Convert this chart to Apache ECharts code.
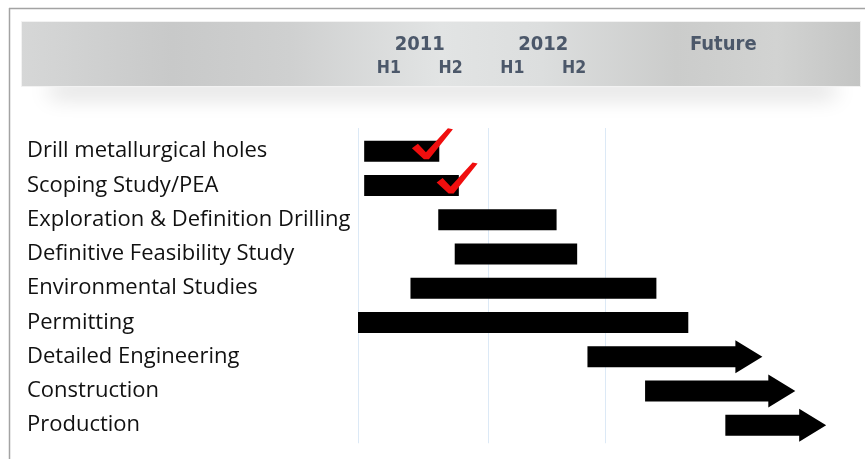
<!DOCTYPE html>
<html>
<head>
<meta charset="utf-8">
<style>
  html, body { margin: 0; padding: 0; background: #fff; }
  #chart { width: 865px; height: 459px; }
</style>
<script src="https://cdn.jsdelivr.net/npm/echarts@6/dist/echarts.min.js"></script>
</head>
<body>
<div id="chart"></div>
<script>
// Timeline in months counted from January 2011.
const tasks = [
  "Drill metallurgical holes",
  "Scoping Study/PEA",
  "Exploration & Definition Drilling",
  "Definitive Feasibility Study",
  "Environmental Studies",
  "Permitting",
  "Detailed Engineering",
  "Construction",
  "Production"
]
const taskStart = [0.6, 0.6, 7.8, 9.4, 5.1, 0.0, 22.3, 27.9, 35.7]
const taskEnd = [7.9, 9.8, 19.3, 21.3, 29.0, 32.1, 39.3, 42.5, 45.5]
const taskOngoing = [0, 0, 0, 0, 0, 0, 1, 1, 1]

// red check marks on the finished tasks: [month, task index]
const doneMarks = [[6.6, 0], [9.0, 1]]

// header ticks
const yearTicks = [6, 18, 35.5]
const yearLabels = ["2011", "2012", "Future"]
const halfTicks = [3, 9, 15, 21]
const halfLabels = ["H1", "H2", "H1", "H2"]

// vertical guide lines
const guideLines = [0, 12.6, 24]

const chart = echarts.init(document.getElementById("chart"), null, { renderer: "canvas" })

const barData = tasks.map((t, i) => [taskStart[i], taskEnd[i], i, taskOngoing[i]])

const headFont = "'Liberation Sans Narrow', 'DejaVu Sans Condensed', sans-serif"

function headerAxis(ticks, labels, offset, size) {
  return {
    type: "value",
    position: "top",
    min: 0,
    max: 48,
    offset: offset,
    z: 10,
    axisLine: { show: false },
    axisTick: { show: false },
    splitLine: { show: false },
    axisLabel: {
      customValues: ticks,
      showMinLabel: true,
      showMaxLabel: true,
      hideOverlap: false,
      margin: 0,
      verticalAlign: "middle",
      fontFamily: headFont,
      fontWeight: "bold",
      fontSize: size,
      color: "#4c586a",
      formatter: (v) => {
        const i = ticks.findIndex((t) => Math.abs(t - v) < 1e-6)
        return i < 0 ? "" : labels[i]
      }
    }
  }
}

const option = {
  animation: false,
  backgroundColor: "#fff",
  graphic: [
    // outer frame
    { type: "line", z: -10, shape: { x1: 9, y1: 8.5, x2: 865, y2: 8.5 }, style: { stroke: "#a3a3a3", lineWidth: 1.5 } },
    { type: "line", z: -10, shape: { x1: 9.5, y1: 8, x2: 9.5, y2: 459 }, style: { stroke: "#a3a3a3", lineWidth: 1.5 } },
    // soft shadow under header
    {
      type: "rect", z: -10, shape: { x: 50, y: 74, width: 785, height: 12 },
      style: { fill: "#d6d6d6", shadowBlur: 22, shadowColor: "rgba(0,0,0,0.18)", shadowOffsetY: 10 }
    },
    // header band
    {
      type: "rect", z: -10, shape: { x: 21.5, y: 21.5, width: 839, height: 65 },
      style: {
        stroke: "#f2f2f2", lineWidth: 1,
        fill: new echarts.graphic.LinearGradient(0, 0, 1, 0, [
          { offset: 0, color: "#d6d7d7" },
          { offset: 0.18, color: "#c8c9c9" },
          { offset: 0.32, color: "#cfd0d0" },
          { offset: 0.5, color: "#e2e4e4" },
          { offset: 0.62, color: "#dcdede" },
          { offset: 0.78, color: "#cbcccb" },
          { offset: 0.9, color: "#d2d3d2" },
          { offset: 1, color: "#c3c4c3" }
        ])
      }
    }
  ],
  grid: { left: 358, top: 134, width: 493.9, height: 308.25, containLabel: false },
  xAxis: [
    {
      type: "value",
      min: 0,
      max: 48,
      show: false
    },
    headerAxis(yearTicks, yearLabels, 89, 20),
    headerAxis(halfTicks, halfLabels, 65.5, 17.5)
  ],
  yAxis: {
    type: "category",
    inverse: true,
    data: tasks,
    axisLine: { show: false },
    axisTick: { show: false },
    splitLine: { show: false },
    axisLabel: {
      interval: 0,
      align: "left",
      margin: 331,
      fontFamily: "'Open Sans', 'Noto Sans', sans-serif",
      fontSize: 22,
      color: "#111"
    }
  },
  series: [
    {
      type: "custom",
      name: "guides",
      data: guideLines.map((v) => [v, 0]),
      encode: { x: 0, y: 1 },
      silent: true,
      z: 1,
      renderItem: (params, api) => {
        const x = Math.round(api.coord([api.value(0), 0])[0]) + 0.5
        const cs = params.coordSys
        return {
          type: "line",
          shape: { x1: x, y1: cs.y - 6, x2: x, y2: cs.y + cs.height + 1 },
          style: { stroke: "#dce9f6", lineWidth: 1 }
        }
      }
    },
    {
      type: "custom",
      name: "tasks",
      data: barData,
      encode: { x: [0, 1], y: 2 },
      z: 2,
      renderItem: (params, api) => {
        const s = api.coord([api.value(0), api.value(2)])
        const e = api.coord([api.value(1), api.value(2)])
        const y = s[1]
        const h = 21
        if (api.value(3)) {
          const head = 27
          const hw = 16.5
          const neck = e[0] - head
          return {
            type: "polygon",
            shape: {
              points: [
                [s[0], y - h / 2], [neck, y - h / 2], [neck, y - hw], [e[0], y],
                [neck, y + hw], [neck, y + h / 2], [s[0], y + h / 2]
              ]
            },
            style: { fill: "#000" }
          }
        }
        return {
          type: "rect",
          shape: { x: s[0], y: y - h / 2, width: e[0] - s[0], height: h },
          style: { fill: "#000" }
        }
      }
    },
    {
      type: "custom",
      name: "done",
      data: doneMarks,
      encode: { x: 0, y: 1 },
      z: 3,
      renderItem: (params, api) => {
        const p = api.coord([api.value(0), api.value(1)])
        const bx = p[0]
        const by = p[1] + 8
        const pts = [[-14, -11], [-8, -15.5], [0, -7], [22, -31], [27, -30], [3, 0], [-2, 0]]
        return {
          type: "polygon",
          shape: { points: pts.map((q) => [bx + q[0], by + q[1]]) },
          style: { fill: "#f00e0e" }
        }
      }
    }
  ]
}

chart.setOption(option)
</script>
</body>
</html>
